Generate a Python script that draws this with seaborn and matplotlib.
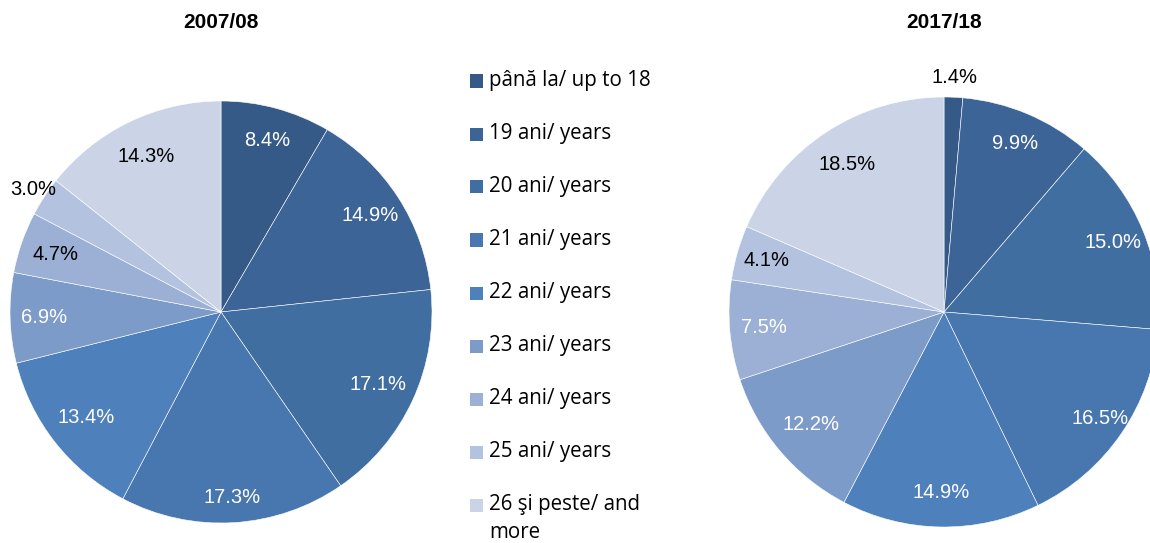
import matplotlib
matplotlib.use("Agg")
import matplotlib.pyplot as plt
from matplotlib.patches import Rectangle
import numpy as np
import seaborn as sns

# Datos
categorias = ["până la/ up to 18", "19 ani/ years", "20 ani/ years", "21 ani/ years",
              "22 ani/ years", "23 ani/ years", "24 ani/ years", "25 ani/ years",
              "26 şi peste/ and\nmore"]
anios = ["2007/08", "2017/18"]
valores_2007 = [8.4, 14.9, 17.1, 17.3, 13.4, 6.9, 4.7, 3.0, 14.3]
valores_2017 = [1.4, 9.9, 15.0, 16.5, 14.9, 12.2, 7.5, 4.1, 18.5]

# Estilo
sns.set_theme(style="white")
plt.rcParams['font.family'] = ['Liberation Sans', 'DejaVu Sans']
plt.rcParams['text.color'] = 'black'

colores = ["#365A87", "#3C6496", "#416EA1", "#4876AE", "#4E80BC",
           "#7D9BC8", "#9BB0D4", "#B3C3DF", "#CAD4E6"]

# color y distancia de cada etiqueta
texto_2007 = ["white"] * 6 + ["black"] * 3
texto_2017 = ["black"] + ["white"] * 6 + ["black"] * 2
dist_2007 = [0.84, 0.84, 0.82, 0.88, 0.81, 0.84, 0.83, 1.06, 0.82]
dist_2017 = [1.09, 0.85, 0.85, 0.88, 0.84, 0.81, 0.84, 0.86, 0.82]

W, H = 1150, 543
fig = plt.figure(figsize=(W / 100, H / 100), dpi=100)


def dibujar_pie(cx, cy, r, valores, col_texto, dist, titulo):
    ax = fig.add_axes([(cx - r) / W, (H - cy - r) / H, 2 * r / W, 2 * r / H])
    wedges, _ = ax.pie(valores, colors=colores, startangle=90, counterclock=False,
                       radius=1, wedgeprops=dict(edgecolor="white", linewidth=0.4))
    for w, v, c, d in zip(wedges, valores, col_texto, dist):
        ang = np.deg2rad((w.theta1 + w.theta2) / 2)
        ax.text(d * np.cos(ang), d * np.sin(ang), f"{v:.1f}%", color=c,
                fontsize=14.5, ha="center", va="center")
    ax.set_xlim(-1, 1)
    ax.set_ylim(-1, 1)
    ax.axis("off")
    fig.text(cx / W, 1 - 22 / H, titulo, fontsize=15, fontweight="bold",
             ha="center", va="center", color="black")


dibujar_pie(221, 312, 211, valores_2007, texto_2007, dist_2007, anios[0])
dibujar_pie(944, 312, 215, valores_2017, texto_2017, dist_2017, anios[1])

# Leyenda
for i, (cat, col) in enumerate(zip(categorias, colores)):
    y = 81 + 53 * i
    fig.patches.append(Rectangle((470 / W, 1 - (y + 6.5) / H), 13 / W, 13 / H,
                                 transform=fig.transFigure, facecolor=col,
                                 edgecolor="none"))
    fig.text(489 / W, 1 - (y - 11) / H, cat, fontsize=14.8, family="Open Sans",
             ha="left", va="top", linespacing=1.45, color="black")

fig.savefig("out.png", dpi=100)
